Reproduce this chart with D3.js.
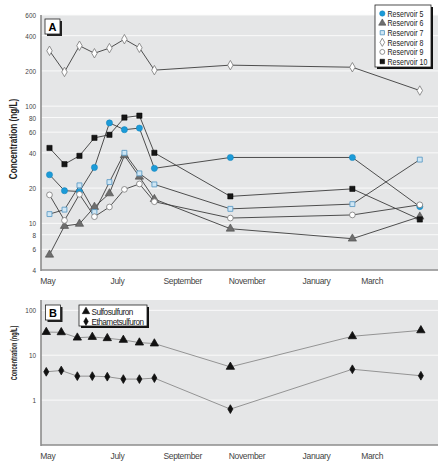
<!DOCTYPE html>
<html><head><meta charset="utf-8">
<script src="https://cdn.jsdelivr.net/npm/d3@7"></script>
<style>
body{margin:0;background:#fff;}
text{font-family:"Liberation Sans",Arial,sans-serif;}
</style></head>
<body><svg id="c" width="446" height="466"></svg>
<script>
// ---------- data ----------
const monthLabels = ["May","July","September","November","January","March"];
const monthDates  = ["2002-05-06","2002-07-10","2002-09-09","2002-11-08","2003-01-12","2003-03-05"];

const datesA = ["2002-05-08","2002-05-22","2002-06-05","2002-06-19","2002-07-03","2002-07-17","2002-07-31","2002-08-14","2002-10-24","2003-02-15","2003-04-19"];
const reservoir5  = [26, 19, 18.7, 30, 72, 63, 65, 29.5, 36.5, 36.5, 13.9];
const reservoir6  = [5.4, 9.5, 9.9, 13.8, 18, 38, 25, 16.1, 9.0, 7.4, 11.4];
const reservoir7  = [12, 13.1, 21.1, 12.5, 22.5, 40, 26.7, 21.5, 13.3, 14.6, 35];
const reservoir8  = [297, 196, 328, 283, 313, 373, 315, 203, 224, 215, 136];
const reservoir9  = [17.5, 10.6, 17.7, 11.4, 13.8, 19.5, 21.7, 15.3, 11.1, 11.8, 14.4];
const reservoir10 = [44, 32, 37.7, 53.7, 57, 80, 83, 40, 17, 19.7, 10.8];
const seriesNamesA = ["Reservoir 5","Reservoir 6","Reservoir 7","Reservoir 8","Reservoir 9","Reservoir 10"];
const yTicksA = [600,400,200,100,80,60,40,20,10,8,6,4];

const datesB = ["2002-05-05","2002-05-19","2002-06-03","2002-06-17","2002-07-01","2002-07-16","2002-07-31","2002-08-14","2002-10-24","2003-02-15","2003-04-20"];
const sulfosulfuron   = [32.8, 32.4, 24.6, 25.5, 23.9, 21.9, 19.1, 18.2, 5.5, 26.4, 35.8];
const ethametsulfuron = [4.27, 4.57, 3.42, 3.42, 3.32, 2.94, 2.94, 3.09, 0.63, 4.87, 3.49];
const seriesNamesB = ["Sulfosulfuron","Ethametsulfuron"];
const yTicksB = [100,10,1];

// ---------- setup ----------
const parse = d3.timeParse("%Y-%m-%d");
const svg = d3.select("#c");
const L = 41, R = 438;
const x = d3.scaleTime().domain([parse("2002-05-01"), parse("2003-05-06")]).range([42, 438]);
const CX = 0.8; // horizontal condensing of text (narrow typeface look)

const styles = [
  {shape:d3.symbolCircle,  size:30, fill:"#1b9bd8", stroke:"#1580b8", sw:0.5},
  {shape:d3.symbolTriangle,size:30, fill:"#6e6e6e", stroke:"#4a4a4a", sw:0.6},
  {shape:d3.symbolSquare,  size:24, fill:"#cfe6f4", stroke:"#5f9dc6", sw:0.9},
  {shape:d3.symbolDiamond, size:26, fill:"#ffffff", stroke:"#777",    sw:0.8},
  {shape:d3.symbolCircle,  size:26, fill:"#ffffff", stroke:"#777",    sw:0.8},
  {shape:d3.symbolSquare,  size:28, fill:"#161616", stroke:"#000",    sw:0.5}
];

function panel(top, bottom, yDomain, ticks, gridTicks) {
  const y = d3.scaleLog().domain(yDomain).range([bottom, top]);
  const g = svg.append("g");
  g.append("rect").attr("x", L).attr("y", top).attr("width", R - L).attr("height", bottom - top).attr("fill", "#e5e6e7");
  g.selectAll("line.grid").data(gridTicks).join("line")
    .attr("x1", L).attr("x2", R).attr("y1", d => y(d)).attr("y2", d => y(d))
    .attr("stroke", "#fafafa").attr("stroke-width", 1);
  const ya = d3.axisLeft(y).tickValues(ticks).tickFormat(d3.format("d")).tickSize(0).tickPadding(5);
  const ga = g.append("g").attr("transform", `translate(${L},0)`).call(ya).attr("font-family", null);
  ga.select(".domain").remove();
  ga.selectAll("text").attr("font-size", 8).attr("fill", "#444")
    .attr("transform", `translate(-5,0) scale(${CX},1) translate(5,0)`);
  g.append("line").attr("x1", L).attr("x2", L).attr("y1", top).attr("y2", bottom + 1).attr("stroke", "#8c8c8c").attr("stroke-width", 1.6);
  g.append("line").attr("x1", L).attr("x2", R).attr("y1", bottom).attr("y2", bottom).attr("stroke", "#8c8c8c").attr("stroke-width", 1.6);
  const xa = d3.axisBottom(x).tickValues(monthDates.map(parse)).tickSize(0).tickPadding(8)
    .tickFormat((d, i) => monthLabels[i]);
  const gx = g.append("g").attr("transform", `translate(0,${bottom})`).call(xa).attr("font-family", null);
  gx.select(".domain").remove();
  gx.selectAll("text").attr("font-size", 8.5).attr("fill", "#444").attr("letter-spacing", -0.35);
  return {g, y};
}

function labelBox(px, py, t) {
  svg.append("rect").attr("x", px + 2).attr("y", py + 2).attr("width", 15).attr("height", 15).attr("fill", "#222");
  svg.append("rect").attr("x", px).attr("y", py).attr("width", 15).attr("height", 15).attr("fill", "#fff").attr("stroke", "#222").attr("stroke-width", 0.8);
  svg.append("text").attr("x", px + 7.5).attr("y", py + 11.5).attr("text-anchor", "middle")
    .attr("font-weight", "bold").attr("font-size", 11).text(t);
}

function yTitle(cy, sx, fs) {
  svg.append("text").attr("transform", `translate(17,${cy}) rotate(-90) scale(${sx},1)`).attr("text-anchor", "middle")
    .attr("font-weight", "bold").attr("font-size", fs).attr("fill", "#222")
    .text("Concentration (ng/L)");
}

function condText(g, tx, ty, fs, t) {
  g.append("text").attr("transform", `translate(${tx},${ty}) scale(${CX},1)`)
    .attr("font-size", fs).attr("fill", "#222").text(t);
}

// ---------- Panel A ----------
const A = panel(15, 270, [4, 600], yTicksA, yTicksA);
const seriesA = [reservoir5, reservoir6, reservoir7, reservoir8, reservoir9, reservoir10];
const dA = datesA.map(parse);
const lineA = d3.line().x((d, i) => x(dA[i])).y(d => A.y(d));
seriesA.forEach((s) => {
  A.g.append("path").attr("d", lineA(s)).attr("fill", "none").attr("stroke", "#3c3c3c").attr("stroke-width", 0.9);
});
seriesA.forEach((s, k) => {
  const st = styles[k];
  A.g.selectAll(null).data(s).join("path")
    .attr("transform", (d, i) => `translate(${x(dA[i])},${A.y(d)})`)
    .attr("d", d3.symbol().type(st.shape).size(st.size))
    .attr("fill", st.fill).attr("stroke", st.stroke).attr("stroke-width", st.sw);
});
labelBox(45, 19, "A");
yTitle(139, 0.78, 10.5);

// Legend A
const lgA = svg.append("g");
lgA.append("rect").attr("x", 377).attr("y", 7).attr("width", 56).attr("height", 62).attr("fill", "#111");
lgA.append("rect").attr("x", 375).attr("y", 5).attr("width", 56).attr("height", 62).attr("fill", "#fff").attr("stroke", "#222").attr("stroke-width", 0.8);
seriesNamesA.forEach((n, k) => {
  const st = styles[k];
  const yy = 13.5 + k * 9.6;
  lgA.append("path").attr("transform", `translate(382.3,${yy})`)
    .attr("d", d3.symbol().type(st.shape).size(st.size * 0.75))
    .attr("fill", st.fill).attr("stroke", st.stroke).attr("stroke-width", st.sw);
  condText(lgA, 387.5, yy + 3.2, 8.8, n);
});

// ---------- Panel B ----------
const B = panel(300, 445, [0.1, 170], yTicksB, yTicksB);
const dB = datesB.map(parse);
const lineB = d3.line().x((d, i) => x(dB[i])).y(d => B.y(d));
const seriesB = [sulfosulfuron, ethametsulfuron];
const shapesB = [d3.symbolTriangle, d3.symbolDiamond];
const sizesB = [30, 22];
seriesB.forEach((s) => {
  B.g.append("path").attr("d", lineB(s)).attr("fill", "none").attr("stroke", "#8a8a8a").attr("stroke-width", 0.9);
});
seriesB.forEach((s, k) => {
  B.g.selectAll(null).data(s).join("path")
    .attr("transform", (d, i) => `translate(${x(dB[i])},${B.y(d)})`)
    .attr("d", d3.symbol().type(shapesB[k]).size(sizesB[k]))
    .attr("fill", "#111").attr("stroke", "#111").attr("stroke-width", 0.8).attr("stroke-linejoin", "round");
});
labelBox(45.5, 305, "B");
yTitle(353, 0.62, 9);

const lgB = svg.append("g");
lgB.append("rect").attr("x", 81).attr("y", 307).attr("width", 68).attr("height", 21).attr("fill", "#111");
lgB.append("rect").attr("x", 79).attr("y", 305).attr("width", 68).attr("height", 21).attr("fill", "#fff").attr("stroke", "#222").attr("stroke-width", 0.8);
seriesNamesB.forEach((n, k) => {
  const yy = 311.5 + k * 10;
  lgB.append("path").attr("transform", `translate(86,${yy})`)
    .attr("d", d3.symbol().type(shapesB[k]).size(sizesB[k] * 0.8)).attr("fill", "#111").attr("stroke", "#111").attr("stroke-width", 0.6);
  lgB.append("text").attr("x", 91.5).attr("y", yy + 3.3).attr("font-size", 8.2).attr("letter-spacing", -0.5)
    .attr("fill", "#222").text(n);
});
</script></body></html>
